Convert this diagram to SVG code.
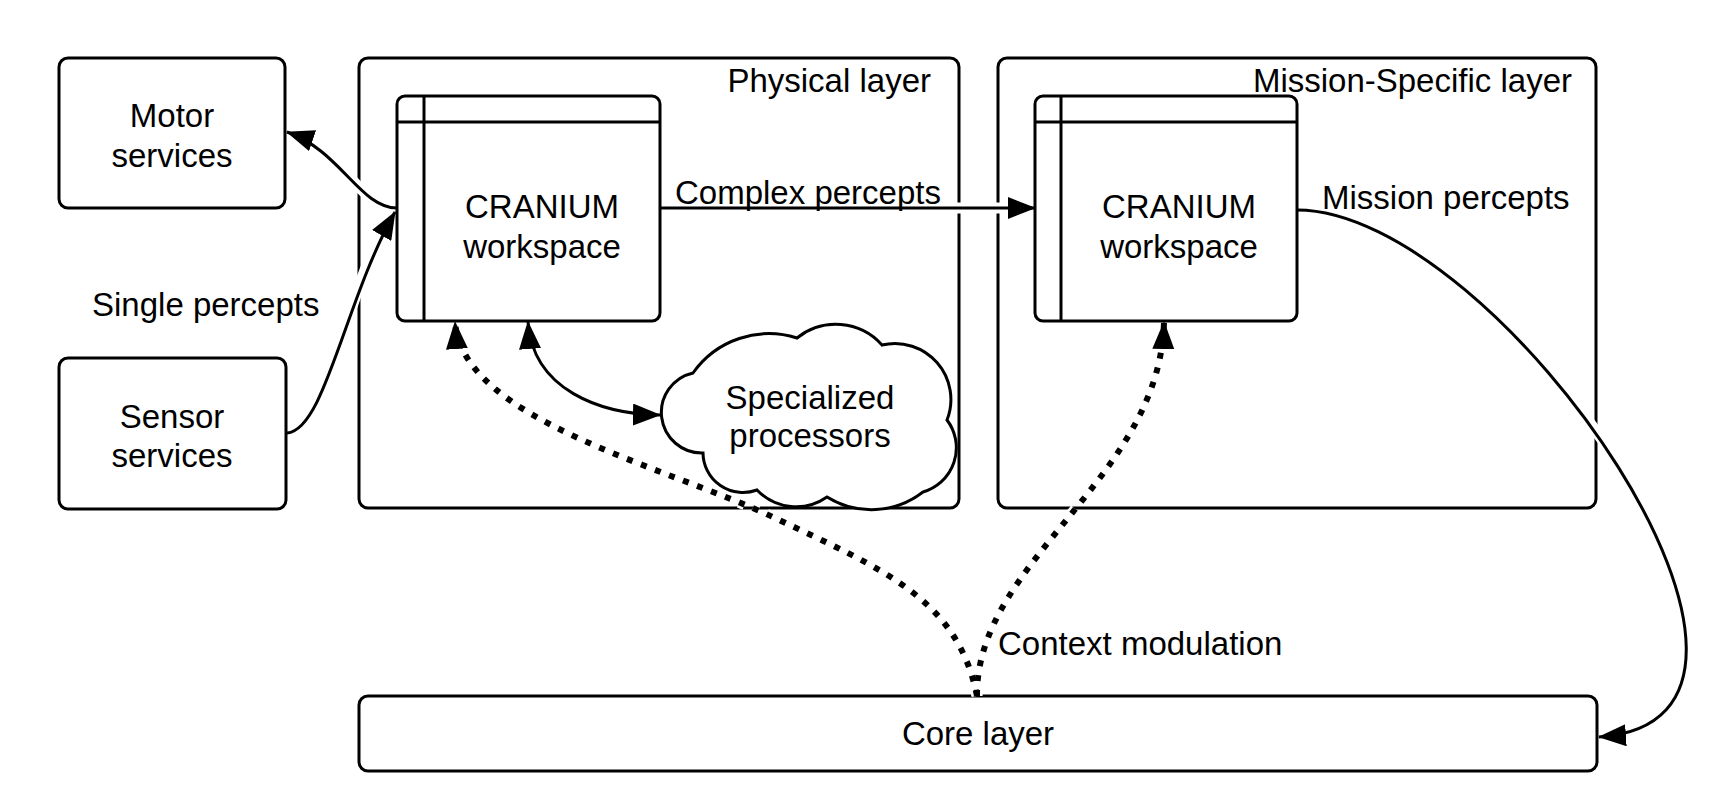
<svg xmlns="http://www.w3.org/2000/svg" width="1727" height="804" viewBox="0 0 1727 804">
<style>
.box{fill:#fff;stroke:#000;stroke-width:3}
.ln{fill:none;stroke:#000;stroke-width:3}
.halo{fill:none;stroke:#fff;stroke-width:11}
.dot{fill:none;stroke:#000;stroke-width:6;stroke-dasharray:6 9}
.dothalo{fill:none;stroke:#fff;stroke-width:11;stroke-dasharray:6 9}
text{font-family:"Liberation Sans",Arial,sans-serif;font-size:33px;fill:#000}
.c{text-anchor:middle}
.e{text-anchor:end}
</style>
<defs>
<marker id="arr" viewBox="0 0 28 22" refX="27" refY="11" markerWidth="28" markerHeight="22" markerUnits="userSpaceOnUse" orient="auto-start-reverse">
<path d="M0,0 L28,11 L0,22 Z" fill="#000" stroke="none"/>
</marker>
</defs>
<rect width="1727" height="804" fill="#fff"/>

<g id="physical-layer">
<rect class="box" x="359" y="58" width="600" height="450" rx="9"/>
<text class="e" x="931" y="92">Physical layer</text>
</g>
<g id="mission-layer">
<rect class="box" x="998" y="58" width="598" height="450" rx="9"/>
<text class="e" x="1572" y="92">Mission-Specific layer</text>
</g>
<g id="core-layer">
<rect class="box" x="359" y="696" width="1238" height="75" rx="9"/>
<text class="c" x="978" y="745">Core layer</text>
</g>

<g id="connectors">
<g id="halos">
<path class="halo" d="M397,208 C360,208 340,150 300,136"/>
<path class="halo" d="M287,433 C325,430 345,300 385,225"/>
<path class="halo" d="M662,208 L1010,208"/>
<path class="halo" d="M1297,210 C1500,210 1850,720 1620,737"/>
<path class="dothalo" d="M977,696 C958,600 885,570 775,518 S462,420 455,322"/>
<path class="dothalo" d="M977,696 C976,560 1160,480 1164,322"/>
</g>
<path id="e-motor" class="ln" d="M397,208 C360,208 340,150 287,132" marker-end="url(#arr)"/>
<path id="e-sensor" class="ln" d="M287,433 C325,430 345,300 395,212" marker-end="url(#arr)"/>
<path id="e-complex" class="ln" d="M660,208 L1035,208" marker-end="url(#arr)"/>
<path id="e-mission" class="ln" d="M1297,210 C1500,210 1850,720 1599,737" marker-end="url(#arr)"/>
<path id="e-spec" class="ln" d="M528,322 C533,390 600,414 660,415" marker-start="url(#arr)" marker-end="url(#arr)"/>
<path id="e-ctx1" class="dot" d="M977,696 C958,600 885,570 775,518 S462,420 455,322" marker-end="url(#arr)"/>
<path id="e-ctx2" class="dot" d="M977,696 C976,560 1160,480 1164,322" marker-end="url(#arr)"/>
<text x="675" y="204">Complex percepts</text>
<text x="1322" y="209">Mission percepts</text>
<text x="92" y="316">Single percepts</text>
<text x="998" y="655">Context modulation</text>
</g>

<g id="motor-services">
<rect class="box" x="59" y="58" width="226" height="150" rx="9"/>
<text class="c" x="172" y="127">Motor</text>
<text class="c" x="172" y="167">services</text>
</g>
<g id="sensor-services">
<rect class="box" x="59" y="358" width="227" height="151" rx="9"/>
<text class="c" x="172" y="428">Sensor</text>
<text class="c" x="172" y="467">services</text>
</g>
<g id="cranium-physical">
<rect class="box" x="397" y="96" width="263" height="225" rx="8"/>
<line class="ln" x1="397" y1="122" x2="660" y2="122"/>
<line class="ln" x1="424" y1="96" x2="424" y2="321"/>
<text class="c" x="542" y="218">CRANIUM</text>
<text class="c" x="542" y="258">workspace</text>
</g>
<g id="cranium-mission">
<rect class="box" x="1035" y="96" width="262" height="225" rx="8"/>
<line class="ln" x1="1035" y1="122" x2="1297" y2="122"/>
<line class="ln" x1="1061" y1="96" x2="1061" y2="321"/>
<text class="c" x="1179" y="218">CRANIUM</text>
<text class="c" x="1179" y="258">workspace</text>
</g>
<g id="specialized-processors">
<path class="box" d="M693,373 A40.5,40.5 0 0 0 703,453 A40,40 0 0 0 757,490 A54,54 0 0 0 827,497 A84,84 0 0 0 923,492 A46,46 0 0 0 947,420 A56,56 0 0 0 882,345 A62,62 0 0 0 797,338 A93,93 0 0 0 693,373 Z"/>
<text class="c" x="810" y="409">Specialized</text>
<text class="c" x="810" y="447">processors</text>
</g>
</svg>
